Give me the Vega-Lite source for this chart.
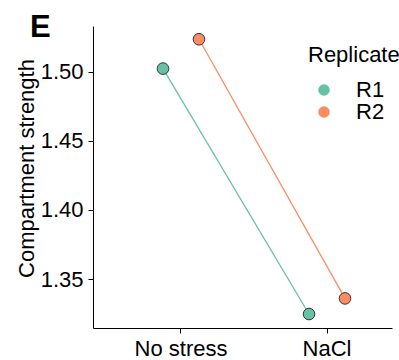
{
  "$schema": "https://vega.github.io/schema/vega-lite/v6.json",
  "width": 299,
  "height": 302,
  "autosize": {"type": "none"},
  "padding": {"left": 93, "top": 26, "right": 7, "bottom": 32},
  "title": {
    "text": "E",
    "anchor": "start",
    "frame": "group",
    "fontSize": 31,
    "fontWeight": "bold",
    "font": "Liberation Sans",
    "color": "#000000",
    "baseline": "alphabetic",
    "offset": 0,
    "dx": -63,
    "dy": 42
  },
  "data": {
    "values": [
      {"Condition": "No stress", "Replicate": "R1", "value": 1.5022},
      {"Condition": "No stress", "Replicate": "R2", "value": 1.5234},
      {"Condition": "NaCl", "Replicate": "R1", "value": 1.3247},
      {"Condition": "NaCl", "Replicate": "R2", "value": 1.3360}
    ]
  },
  "encoding": {
    "x": {
      "field": "Condition",
      "type": "nominal",
      "sort": ["No stress", "NaCl"],
      "scale": {"paddingInner": 0.5068, "paddingOuter": 0.2773, "align": 0.642},
      "axis": {"title": null, "labelAngle": 0, "labelFontSize": 22, "labelColor": "#000000", "tickSize": 5, "tickColor": "#000000", "domainColor": "#000000", "labelPadding": 5, "grid": false}
    },
    "xOffset": {
      "field": "Replicate",
      "type": "nominal",
      "scale": {"paddingOuter": 0.5}
    },
    "y": {
      "field": "value",
      "type": "quantitative",
      "scale": {"domain": [1.3146, 1.533], "nice": false, "zero": false},
      "axis": {
        "title": "Compartment strength",
        "values": [1.35, 1.4, 1.45, 1.5],
        "format": ".2f",
        "labelFontSize": 22,
        "labelColor": "#000000",
        "titleFontSize": 22,
        "titleFontWeight": "normal",
        "titleColor": "#000000",
        "titleBaseline": "alphabetic",
        "titleX": -60,
        "titleY": 142,
        "titleAlign": "center",
        "titleAngle": -90,
        "tickSize": 5,
        "tickColor": "#000000",
        "domainColor": "#000000",
        "labelPadding": 5,
        "grid": false
      }
    },
    "color": {
      "field": "Replicate",
      "type": "nominal",
      "scale": {"domain": ["R1", "R2"], "range": ["#66c2a5", "#fc8d62"]},
      "legend": {
        "title": "Replicate",
        "orient": "none",
        "legendX": 215,
        "legendY": 19,
        "padding": 0,
        "titleFontSize": 22,
        "titleFontWeight": "normal",
        "titleColor": "#000000",
        "titleBaseline": "top",
        "titlePadding": 12,
        "labelFontSize": 22,
        "labelColor": "#000000",
        "symbolType": "circle",
        "symbolSize": 135,
        "symbolStrokeWidth": 0,
        "symbolOpacity": 1,
        "symbolOffset": 5,
        "labelOffset": 21,
        "rowPadding": -4
      }
    }
  },
  "layer": [
    {
      "mark": {"type": "line", "strokeWidth": 1.3}
    },
    {
      "mark": {"type": "point", "filled": true, "size": 135, "stroke": "#333333", "strokeWidth": 1, "opacity": 1}
    }
  ],
  "config": {
    "font": "Liberation Sans",
    "view": {"stroke": null},
    "axis": {"domainWidth": 1, "tickWidth": 1}
  }
}
